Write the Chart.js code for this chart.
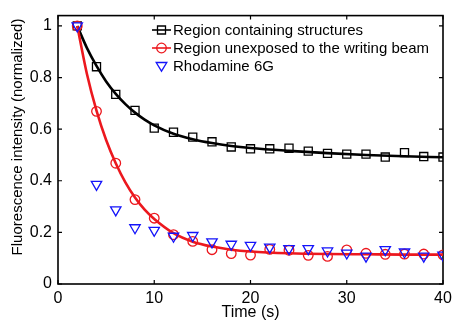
<!DOCTYPE html>
<html>
<head>
<meta charset="utf-8">
<script src="https://cdn.jsdelivr.net/npm/chart.js@4.4.1/dist/chart.umd.min.js"></script>
<style>
body { margin: 0; background: #fff; }
</style>
</head>
<body>
<canvas id="myChart" width="453" height="321"></canvas>
<script>
// measured points
var time = [2, 4, 6, 8, 10, 12, 14, 16, 18, 20, 22, 24, 26, 28, 30, 32, 34, 36, 38, 40];
var structures = [1.0, 0.842, 0.735, 0.673, 0.604, 0.588, 0.569, 0.551, 0.531, 0.524, 0.524, 0.526, 0.515, 0.506, 0.503, 0.503, 0.492, 0.509, 0.494, 0.492];
var unexposed = [1.0, 0.669, 0.468, 0.327, 0.255, 0.191, 0.165, 0.133, 0.118, 0.112, 0.134, 0.131, 0.111, 0.107, 0.132, 0.119, 0.115, 0.116, 0.116, 0.113];
var rhodamine = [1.0, 0.386, 0.287, 0.218, 0.208, 0.185, 0.188, 0.163, 0.154, 0.15, 0.143, 0.137, 0.137, 0.128, 0.12, 0.108, 0.133, 0.124, 0.108, 0.112];

// fitted curves
var fitTime = [2, 3, 4, 5, 6, 7, 8, 9, 10, 12, 14, 16, 18, 20, 24, 28, 32, 36, 40];
var structuresFit = [1.0, 0.915, 0.845, 0.785, 0.737, 0.697, 0.664, 0.637, 0.615, 0.582, 0.561, 0.546, 0.535, 0.527, 0.516, 0.507, 0.5, 0.495, 0.491];
var unexposedFit = [1.0, 0.815, 0.672, 0.558, 0.468, 0.394, 0.335, 0.288, 0.252, 0.197, 0.164, 0.145, 0.133, 0.126, 0.119, 0.116, 0.115, 0.114, 0.114];

var xTicks = [0, 10, 20, 30, 40];
var yTicks = [0, 0.2, 0.4, 0.6, 0.8, 1];
var legendLabels = ['Region containing structures', 'Region unexposed to the writing beam', 'Rhodamine 6G'];
var yTitle = 'Fluorescence intensity (normalized)';

var FONT = '"Liberation Sans", Arial, Helvetica, sans-serif';
var RED = 'rgb(236,24,30)';
var BLUE = 'rgb(20,20,250)';

function toPoints(xs, ys) {
    var pts = [];
    for (var i = 0; i < xs.length; i++) {
        pts.push({ x: xs[i], y: ys[i] });
    }
    return pts;
}

function drawMarker(ctx, style, x, y, color) {
    ctx.save();
    ctx.strokeStyle = color;
    ctx.lineWidth = 1.3;
    ctx.beginPath();
    if (style === 'rect') {
        ctx.rect(x - 4, y - 4, 8, 8);
    } else if (style === 'circle') {
        ctx.arc(x, y, 4.8, 0, Math.PI * 2);
    } else {
        ctx.moveTo(x - 5.3, y - 3.5);
        ctx.lineTo(x + 5.3, y - 3.5);
        ctx.lineTo(x, y + 5.2);
        ctx.closePath();
    }
    ctx.stroke();
    ctx.restore();
}

var framePlugin = {
    id: 'frame',
    beforeDatasetsDraw: function(chart) {
        var ctx = chart.ctx;
        var a = chart.chartArea;
        var xs = chart.scales.x;
        var ys = chart.scales.y;
        ctx.save();
        ctx.strokeStyle = '#000';
        ctx.lineWidth = 1.6;
        ctx.strokeRect(a.left, a.top, a.right - a.left, a.bottom - a.top);
        ctx.lineWidth = 1.2;
        ctx.beginPath();
        xTicks.forEach(function(v) {
            var px = xs.getPixelForValue(v);
            ctx.moveTo(px, a.bottom); ctx.lineTo(px, a.bottom - 4);
            ctx.moveTo(px, a.top); ctx.lineTo(px, a.top + 4);
        });
        yTicks.forEach(function(v) {
            var py = ys.getPixelForValue(v);
            ctx.moveTo(a.left, py); ctx.lineTo(a.left + 4, py);
            ctx.moveTo(a.right, py); ctx.lineTo(a.right - 4, py);
        });
        ctx.stroke();

        // y axis title, centred a bit above the axis middle like the original
        ctx.translate(18, 137);
        ctx.rotate(-Math.PI / 2);
        ctx.font = '15px ' + FONT;
        ctx.fillStyle = '#000';
        ctx.textAlign = 'center';
        ctx.textBaseline = 'middle';
        ctx.fillText(yTitle, 0, 0);
        ctx.restore();
    },
    afterDatasetsDraw: function(chart) {
        var ctx = chart.ctx;
        var styles = ['rect', 'circle', 'triangle'];
        var colors = ['#000', RED, BLUE];
        var hasLine = [true, true, false];
        ctx.save();
        ctx.font = '15px ' + FONT;
        ctx.textBaseline = 'middle';
        ctx.fillStyle = '#000';
        for (var i = 0; i < legendLabels.length; i++) {
            var y = 30 + i * 18;
            if (hasLine[i]) {
                ctx.strokeStyle = colors[i];
                ctx.lineWidth = 1.6;
                ctx.beginPath();
                ctx.moveTo(152, y);
                ctx.lineTo(171, y);
                ctx.stroke();
            }
            drawMarker(ctx, styles[i], 161.5, y, colors[i]);
            ctx.fillText(legendLabels[i], 173, y + 1);
        }
        ctx.restore();
    }
};

var config = {
    type: 'scatter',
    data: {
        datasets: [
            {
                label: legendLabels[2] + ' data',
                data: toPoints(time, rhodamine),
                pointStyle: 'triangle',
                rotation: 180,
                pointRadius: 6,
                pointBorderWidth: 1.3,
                borderColor: BLUE,
                backgroundColor: 'rgba(0,0,0,0)',
                order: 0
            },
            {
                label: legendLabels[1] + ' data',
                data: toPoints(time, unexposed),
                pointStyle: 'circle',
                pointRadius: 4.8,
                pointBorderWidth: 1.3,
                borderColor: RED,
                backgroundColor: 'rgba(0,0,0,0)',
                order: 1
            },
            {
                label: legendLabels[1] + ' fit',
                data: toPoints(fitTime, unexposedFit),
                showLine: true,
                cubicInterpolationMode: 'monotone',
                pointRadius: 0,
                borderWidth: 2.6,
                borderColor: RED,
                order: 2
            },
            {
                label: legendLabels[0] + ' data',
                data: toPoints(time, structures),
                pointStyle: 'rect',
                pointRadius: 5.7,
                pointBorderWidth: 1.3,
                borderColor: '#000',
                backgroundColor: 'rgba(0,0,0,0)',
                order: 3
            },
            {
                label: legendLabels[0] + ' fit',
                data: toPoints(fitTime, structuresFit),
                showLine: true,
                cubicInterpolationMode: 'monotone',
                pointRadius: 0,
                borderWidth: 2.6,
                borderColor: '#000',
                order: 4
            }
        ]
    },
    options: {
        responsive: false,
        animation: false,
        devicePixelRatio: 1,
        layout: { padding: { top: 14, right: 10, left: 0, bottom: 0 } },
        plugins: {
            legend: { display: false },
            tooltip: { enabled: false }
        },
        scales: {
            x: {
                type: 'linear',
                min: 0,
                max: 40,
                grid: { display: false, drawTicks: false },
                border: { display: false },
                afterBuildTicks: function(scale) {
                    scale.ticks = xTicks.map(function(v) { return { value: v }; });
                },
                afterFit: function(scale) {
                    scale.height = 37;
                    scale.paddingLeft = 0;
                    scale.paddingRight = 0;
                },
                ticks: {
                    color: '#000',
                    padding: 5,
                    maxRotation: 0,
                    font: { family: FONT, size: 16 }
                },
                title: {
                    display: true,
                    text: 'Time (s)',
                    color: '#000',
                    padding: 0,
                    font: { family: FONT, size: 16, lineHeight: 1 }
                }
            },
            y: {
                type: 'linear',
                min: 0,
                max: 1.04,
                grid: { display: false, drawTicks: false },
                border: { display: false },
                afterBuildTicks: function(scale) {
                    scale.ticks = yTicks.map(function(v) { return { value: v }; });
                },
                afterFit: function(scale) { scale.width = 58; },
                ticks: {
                    color: '#000',
                    padding: 6,
                    font: { family: FONT, size: 16 },
                    callback: function(v) { return String(v); }
                }
            }
        }
    },
    plugins: [framePlugin]
};

var ctx = document.getElementById('myChart').getContext('2d');
var myChart = new Chart(ctx, config);
</script>
</body>
</html>
